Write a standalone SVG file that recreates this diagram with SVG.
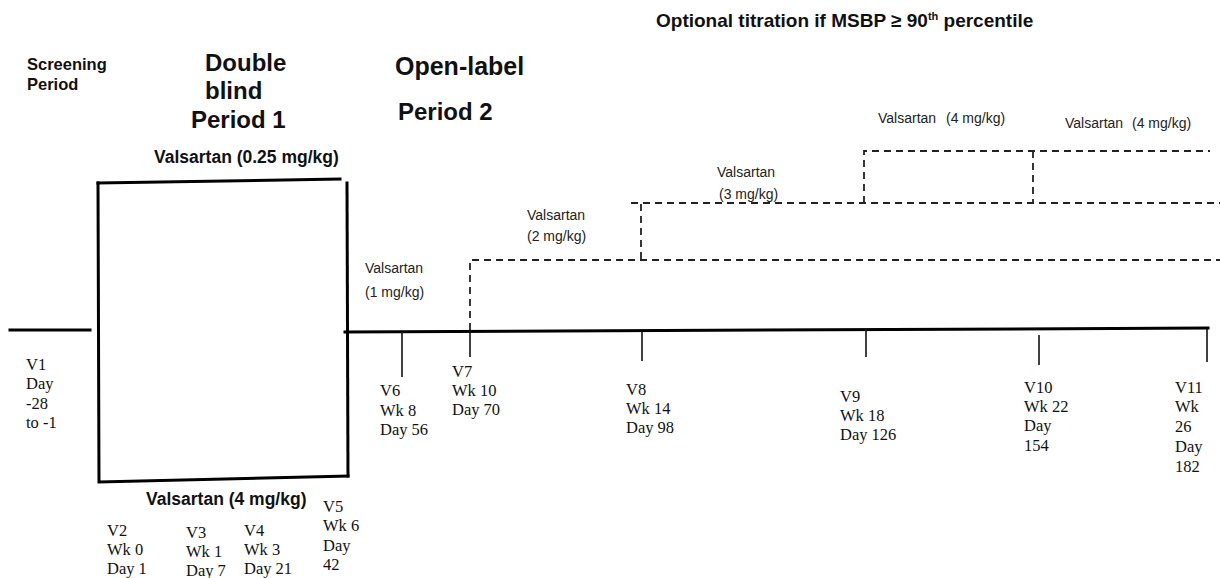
<svg xmlns="http://www.w3.org/2000/svg" width="1220" height="578" viewBox="0 0 1220 578">
<style>
.bg{fill:#fff}
.solid{stroke:#000;stroke-width:3;fill:none;stroke-linecap:square}
.tick{stroke:#111;stroke-width:1.6;fill:none}
.dash{stroke:#222;stroke-width:1.8;fill:none;stroke-dasharray:7 5}
.hd{font-family:"Liberation Sans",Arial,sans-serif;font-weight:bold;fill:#111}
.sm{font-family:"Liberation Sans",Arial,sans-serif;font-size:14px;fill:#222}
.v{font-family:"Liberation Serif","Times New Roman",serif;font-size:16.5px;fill:#111}
</style>
<rect class="bg" width="1220" height="578"/>

<g id="connectors">
  <line class="solid" x1="10" y1="330" x2="90" y2="330"/>
  <line class="solid" x1="345" y1="332" x2="1208" y2="328"/>
  <line class="tick" x1="402" y1="332" x2="402" y2="377"/>
  <line class="tick" x1="470" y1="330" x2="470" y2="357"/>
  <line class="tick" x1="642" y1="331" x2="642" y2="361"/>
  <line class="tick" x1="866" y1="329" x2="866" y2="357"/>
  <line class="tick" x1="1039" y1="335" x2="1039" y2="365"/>
  <line class="tick" x1="1207" y1="329" x2="1207" y2="362"/>
  <path class="dash" d="M470 330 V260 H1220"/>
  <path class="dash" d="M641 259 V203"/>
  <path class="dash" d="M631 203 H1220"/>
  <path class="dash" d="M864 203 V151 H1210"/>
  <path class="dash" d="M1033 151 V202"/>
</g>

<g id="double-blind-box">
  <path class="solid" d="M98 183 L340 179"/>
  <path class="solid" d="M98 183 L99 482 L348 476"/>
  <path class="solid" d="M347 183 L348 476"/>
</g>

<g id="header-screening">
  <text class="hd" font-size="16.5" x="27" y="70">Screening</text>
  <text class="hd" font-size="16.5" x="27" y="90">Period</text>
</g>
<g id="header-period1">
  <text class="hd" font-size="24" x="205" y="71">Double</text>
  <text class="hd" font-size="24" x="205" y="99">blind</text>
  <text class="hd" font-size="24" x="191" y="128">Period 1</text>
</g>
<g id="header-period2">
  <text class="hd" font-size="25" x="395" y="75">Open-label</text>
  <text class="hd" font-size="24" x="398" y="120">Period 2</text>
</g>
<g id="header-titration">
  <text class="hd" font-size="19" x="656" y="27">Optional titration if MSBP ≥ 90<tspan font-size="11" dy="-7">th</tspan><tspan dy="7"> percentile</tspan></text>
</g>

<g id="dose-025">
  <text class="hd" font-size="17.5" x="154" y="163">Valsartan (0.25 mg/kg)</text>
</g>
<g id="dose-4-db">
  <text class="hd" font-size="17.5" x="146" y="505">Valsartan (4 mg/kg)</text>
</g>
<g id="dose-1">
  <text class="sm" x="365" y="273">Valsartan</text>
  <text class="sm" x="365" y="297">(1 mg/kg)</text>
</g>
<g id="dose-2">
  <text class="sm" x="527" y="220">Valsartan</text>
  <text class="sm" x="527" y="241">(2 mg/kg)</text>
</g>
<g id="dose-3">
  <text class="sm" x="717" y="177">Valsartan</text>
  <text class="sm" x="719" y="199">(3 mg/kg)</text>
</g>
<g id="dose-4a">
  <text class="sm" x="878" y="123">Valsartan</text>
  <text class="sm" x="946" y="123">(4 mg/kg)</text>
</g>
<g id="dose-4b">
  <text class="sm" x="1065" y="128">Valsartan</text>
  <text class="sm" x="1132" y="128">(4 mg/kg)</text>
</g>

<g id="v1"><text class="v"><tspan x="26" y="370">V1</tspan><tspan x="26" y="389">Day</tspan><tspan x="26" y="409">-28</tspan><tspan x="26" y="428">to -1</tspan></text></g>
<g id="v2"><text class="v"><tspan x="107" y="536">V2</tspan><tspan x="107" y="555">Wk 0</tspan><tspan x="107" y="574">Day 1</tspan></text></g>
<g id="v3"><text class="v"><tspan x="186" y="538">V3</tspan><tspan x="186" y="557">Wk 1</tspan><tspan x="186" y="576">Day 7</tspan></text></g>
<g id="v4"><text class="v"><tspan x="244" y="536">V4</tspan><tspan x="244" y="555">Wk 3</tspan><tspan x="244" y="574">Day 21</tspan></text></g>
<g id="v5"><text class="v"><tspan x="323" y="512">V5</tspan><tspan x="323" y="531">Wk 6</tspan><tspan x="323" y="551">Day</tspan><tspan x="323" y="570">42</tspan></text></g>
<g id="v6"><text class="v"><tspan x="380" y="396">V6</tspan><tspan x="380" y="416">Wk 8</tspan><tspan x="380" y="435">Day 56</tspan></text></g>
<g id="v7"><text class="v"><tspan x="452" y="377">V7</tspan><tspan x="452" y="396">Wk 10</tspan><tspan x="452" y="415">Day 70</tspan></text></g>
<g id="v8"><text class="v"><tspan x="626" y="395">V8</tspan><tspan x="626" y="414">Wk 14</tspan><tspan x="626" y="433">Day 98</tspan></text></g>
<g id="v9"><text class="v"><tspan x="840" y="402">V9</tspan><tspan x="840" y="421">Wk 18</tspan><tspan x="840" y="440">Day 126</tspan></text></g>
<g id="v10"><text class="v"><tspan x="1024" y="393">V10</tspan><tspan x="1024" y="412">Wk 22</tspan><tspan x="1024" y="431">Day</tspan><tspan x="1024" y="451">154</tspan></text></g>
<g id="v11"><text class="v"><tspan x="1175" y="393">V11</tspan><tspan x="1175" y="412">Wk</tspan><tspan x="1175" y="432">26</tspan><tspan x="1175" y="452">Day</tspan><tspan x="1175" y="472">182</tspan></text></g>
</svg>
